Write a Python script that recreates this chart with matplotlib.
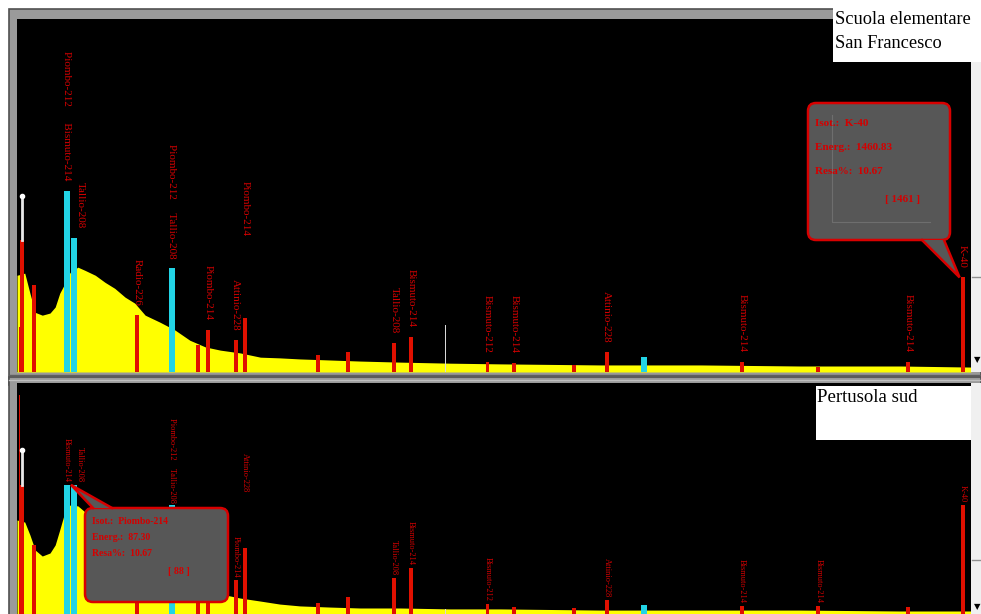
import matplotlib.pyplot as plt
from matplotlib.patches import Rectangle, FancyBboxPatch, Polygon
import numpy as np

plt.rcParams['font.family'] = ['Liberation Serif', 'DejaVu Serif']

W, H = 981, 614

# fondo continuo dei due spettri (energia in keV, conteggi)
energia = [0, 12, 20, 28, 39, 51, 59, 66, 74, 82, 94, 105, 121, 136, 151, 167, 182, 198, 221, 244,
           267, 291, 314, 345, 376, 406, 437, 484, 530, 592, 669, 747, 901, 1056, 1210, 1365, 1474]
fondo_scuola = [274, 280, 223, 169, 161, 167, 184, 223, 251, 282, 297, 288, 274, 254, 237, 212, 195, 161, 141, 119,
                90, 71, 62, 54, 42, 40, 37, 34, 31, 28, 25, 23, 20, 20, 17, 17, 14]
fondo_pertusola = [407, 398, 342, 277, 251, 264, 299, 364, 442, 472, 468, 442, 398, 355, 316, 277, 242, 212, 182, 152,
                   126, 104, 87, 69, 56, 43, 35, 30, 26, 26, 22, 22, 17, 17, 17, 13, 13]

# picchi
picchi_keV = [4, 8, 26, 77, 88, 186, 239, 279, 295, 338, 352, 465, 511, 583, 609, 662, 727, 768, 860, 911,
              969, 1120, 1238, 1377, 1461]
tipo = ['sottile', 'riga', 'riga', 'x', 'x', 'riga', 'x', 'riga', 'riga', 'riga', 'riga', 'riga', 'riga', 'riga',
        'riga', 'nonid', 'riga', 'riga', 'riga', 'riga', 'x', 'riga', 'riga', 'riga', 'riga']
picchi_scuola = [127, 373, 246, 514, 379, 161, 294, 76, 119, 90, 153, 48, 56, 82, 99, 133, 28, 25, 20, 56,
                 42, 28, 15, 28, 268]
picchi_pertusola = [948, 560, 299, 559, 559, 330, 470, 150, 200, 147, 286, 48, 74, 156, 199, 20, 43, 30, 25, 61,
                    39, 35, 35, 30, 472]

etichette_scuola = ['', '', '', 'Piombo-212      Bismuto-214', 'Tallio-208', 'Radio-226', 'Piombo-212     Tallio-208',
                    '', 'Piombo-214', 'Attinio-228', 'Piombo-214', '', '', 'Tallio-208', 'Bismuto-214', '',
                    'Bismuto-212', 'Bismuto-214', '', 'Attinio-228', '', 'Bismuto-214', '', 'Bismuto-214', 'K-40']
etichette_pertusola = ['', '', '', 'Bismuto-214', 'Tallio-208', '', 'Piombo-212    Tallio-208', '', '', 'Piombo-214',
                       'Attinio-228', '', '', 'Tallio-208', 'Bismuto-214', '', 'Bismuto-212', '', '',
                       'Attinio-228', '', 'Bismuto-214', 'Bismuto-214', '', 'K-40']

cursore_keV = 8
cursore_scuola = 500
cursore_pertusola = 710

info_scuola = ['Isot.:  K-40', 'Energ.:  1460.83', 'Resa%:  10.67', '[ 1461 ]']
info_pertusola = ['Isot.:  Piombo-214', 'Energ.:  87.30', 'Resa%:  10.67', '[ 88 ]']

colori = {'riga': '#e01000', 'sottile': '#e01000', 'x': '#22d4e6', 'nonid': '#d8d8d8'}
larghezze = {'riga': 6, 'sottile': 2, 'x': 9, 'nonid': 2}
ROSSO_TXT = '#d40000'

fig = plt.figure(figsize=(W / 100, H / 100), dpi=100)
fig.patch.set_facecolor('white')

# cornice grigia
bg = fig.add_axes([0, 0, 1, 1])
bg.set_zorder(-1)
bg.set_xlim(0, W)
bg.set_ylim(H, 0)
bg.axis('off')
bg.add_patch(Rectangle((9, 9), W - 9, 376, fc='#9a9a9a', ec='#505050', lw=1.2))
bg.add_patch(Rectangle((9, 377), W - 9, H - 377 + 5, fc='#9a9a9a', ec='#505050', lw=1.2))
bg.plot([9, W], [375, 375], color='#606060', lw=1)
bg.plot([9, W], [380, 380], color='#c0c0c0', lw=1)


def px_axes(x0, y0, x1, y1):
    return fig.add_axes([x0 / W, (H - y1) / H, (x1 - x0) / W, (y1 - y0) / H])


ov = fig.add_axes([0, 0, 1, 1])
ov.set_zorder(5)
ov.set_xlim(0, W)
ov.set_ylim(H, 0)
ov.axis('off')
ov.patch.set_alpha(0)


def pannello(ax, fondo, picchi, etichette, cursore, fs, gap, alzo):
    ax.set_facecolor('black')
    ax.set_xlim(0, 1474)
    ax.set_ylim(0, 1000)
    ax.set_xticks([])
    ax.set_yticks([])
    for s in ax.spines.values():
        s.set_visible(False)
    ax.fill_between(energia, fondo, color='#ffff00', lw=0, zorder=1)
    for e, h, t in zip(picchi_keV, picchi, tipo):
        ax.bar(e, h, width=larghezze[t], color=colori[t], lw=0, zorder=2)
    i = picchi_keV.index(cursore_keV)
    ax.plot([cursore_keV, cursore_keV], [picchi[i], cursore], color='#e8e8e8', lw=2, zorder=3)
    ax.plot(cursore_keV, cursore, 'o', color='white', ms=3, zorder=3)
    for e, h, lab in zip(picchi_keV, picchi, etichette):
        if not lab:
            continue
        dx = 4.5 if e == 88 else 0
        ax.annotate(lab, xy=(e, h), xytext=(dx, gap + alzo.get(e, 0)), textcoords='offset points',
                    rotation=270, ha='center', va='bottom', color=ROSSO_TXT, fontsize=fs, zorder=4)


def fumetto(ax, e, h, box, base, righe, fs, righe_y, ultima_x):
    x0, y0, x1, y1 = box
    tip = ov.transData.inverted().transform(ax.transData.transform((e, h)))
    tip = (tip[0] - 3, tip[1])
    ov.add_patch(FancyBboxPatch((x0, y0), x1 - x0, y1 - y0, boxstyle='round,pad=0,rounding_size=8',
                                fc='#575757', ec='#d80000', lw=1.8, zorder=2))
    by = base[2]
    ov.add_patch(Polygon([(base[0], by), tuple(tip), (base[1], by)], closed=True, fc='#575757', ec='none',
                         zorder=3))
    ov.plot([base[0], tip[0], base[1]], [by, tip[1], by], color='#d80000', lw=1.8, zorder=4,
            solid_joinstyle='miter')
    for k, r in enumerate(righe[:3]):
        ov.text(x0 + 7, righe_y[k], r, color=ROSSO_TXT, fontsize=fs, fontweight='bold', va='center', zorder=5)
    ov.text(ultima_x, righe_y[3], righe[3], color=ROSSO_TXT, fontsize=fs, fontweight='bold', va='center',
            ha='right', zorder=5)


ax1 = px_axes(17, 19, 971, 372)
pannello(ax1, fondo_scuola, picchi_scuola, etichette_scuola, cursore_scuola, 8, 7, {352: 52})
ax2 = px_axes(17, 383, 971, 614)
pannello(ax2, fondo_pertusola, picchi_pertusola, etichette_pertusola, cursore_pertusola, 6, 2, {352: 38})

# riquadri bianchi, barra laterale
ov.add_patch(Rectangle((833, 0), W - 833, 62, fc='white', ec='none', zorder=1))
ov.text(835, 19, 'Scuola elementare', fontsize=13.2, color='black', va='center', zorder=2)
ov.text(835, 43, 'San Francesco', fontsize=13.2, color='black', va='center', zorder=2)
ov.add_patch(Rectangle((971, 62), W - 971, 310, fc='#f0f0f0', ec='none', zorder=1))
ov.plot([972, W], [277, 277], color='#909090', lw=1, zorder=1)
ov.text(977, 360, '▼', fontsize=6, color='black', ha='center', va='center', family='DejaVu Sans', zorder=2)

ov.add_patch(Rectangle((816, 386), 159, 54, fc='white', ec='none', zorder=1))
ov.text(817, 398, 'Pertusola sud', fontsize=13.5, color='black', va='center', zorder=2)
ov.add_patch(Rectangle((971, 383), W - 971, H - 383, fc='#f0f0f0', ec='none', zorder=1))
ov.plot([972, W], [560, 560], color='#909090', lw=1, zorder=1)
ov.text(977, 607, '▼', fontsize=6, color='black', ha='center', va='center', family='DejaVu Sans', zorder=2)

# fumetti informativi
fumetto(ax1, 1461, picchi_scuola[-1], (808, 103, 950, 240), (922, 944, 240), info_scuola, 8,
        [123, 148, 172, 200], 920)
ov.plot([832, 832, 930], [115, 222, 222], color='#6e6e6e', lw=0.8, zorder=4)
fumetto(ax2, 88, picchi_pertusola[4], (85, 508, 228, 602), (93, 112, 508), info_pertusola, 7,
        [522, 538, 554, 572], 190)

fig.savefig('out.png', dpi=100)
